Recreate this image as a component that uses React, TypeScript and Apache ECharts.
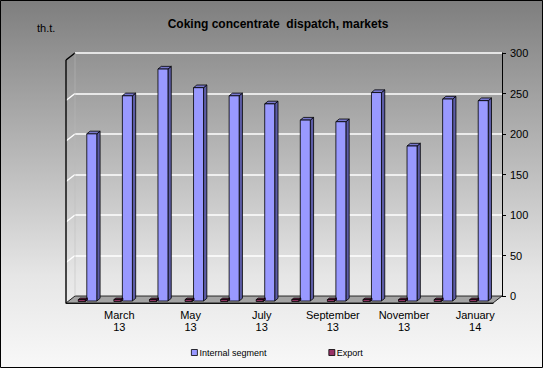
import React, { useEffect, useRef } from "react";
import * as echarts from "echarts";

const categories = [
  "February\n13", "March\n13", "April\n13", "May\n13", "June\n13", "July\n13",
  "August\n13", "September\n13", "October\n13", "November\n13", "December\n13", "January\n14",
];
const internalSegment = [203, 250, 283, 260, 250, 240, 220, 218, 254, 188, 246, 244];
const exportValues = [0.5, 0.5, 0.5, 0.5, 0.5, 0.5, 0.5, 0.5, 0.5, 0.5, 0.5, 0.5];
const yTicks = [0, 50, 100, 150, 200, 250, 300];

const FONT = "'Liberation Sans', Arial, sans-serif";
const DEPTH_X = 9;
const DEPTH_Y = 7;

export default function App() {
  const ref = useRef<HTMLDivElement>(null);

  useEffect(() => {
    document.body.style.margin = "0";
    if (!ref.current) return;
    const chart = echarts.init(ref.current, null, { renderer: "svg" });

    const bar3d = (
      color: string, side: string, topC: string,
      offX: number, wid: number, shiftY: number, dx: number, dy: number, minH: number
    ) =>
      (params: any, api: any) => {
        const i = api.value(0);
        const v = api.value(1);
        const top = api.coord([i, v]);
        const base = api.coord([i, 0]);
        const cx = top[0];
        const fl = cx + offX;
        const fr = fl + wid;
        const ft = Math.min(top[1] + shiftY + dy, base[1] + shiftY - minH);
        const fb = base[1] + shiftY;
        return {
          type: "group",
          children: [
            {
              type: "polygon",
              shape: { points: [[fr, ft], [fr + dx, ft + dy], [fr + dx, fb + dy], [fr, fb]] },
              style: { fill: side, stroke: "#000", lineWidth: 0.8 },
            },
            {
              type: "polygon",
              shape: { points: [[fl, ft], [fl + dx, ft + dy], [fr + dx, ft + dy], [fr, ft]] },
              style: { fill: topC, stroke: "#000", lineWidth: 0.8 },
            },
            {
              type: "rect",
              shape: { x: fl, y: ft, width: fr - fl, height: fb - ft },
              style: { fill: color, stroke: "#000", lineWidth: 0.8 },
            },
          ],
        };
      };

    const floorRender = (params: any, api: any) => {
      const cs = params.coordSys;
      const x = cs.x, y = cs.y, w = cs.width, h = cs.height;
      const children: any[] = [];
      children.push({
        type: "polygon",
        shape: {
          points: [[x, y + h], [x + w, y + h], [x + w - DEPTH_X, y + h + DEPTH_Y], [x - DEPTH_X, y + h + DEPTH_Y]],
        },
        style: { fill: "#a3a3a3", stroke: "#222", lineWidth: 1 },
      });
      yTicks.forEach((t) => {
        if (t === 0) return;
        const yy = api.coord([0, t])[1];
        children.push({
          type: "line",
          shape: { x1: x - DEPTH_X, y1: yy + DEPTH_Y, x2: x, y2: yy },
          style: { stroke: t === 300 ? "#000" : "#fff", lineWidth: 1.5 },
        });
      });
      children.push({
        type: "line",
        shape: { x1: x - DEPTH_X, y1: y + DEPTH_Y, x2: x - DEPTH_X, y2: y + h + DEPTH_Y },
        style: { stroke: "#111", lineWidth: 1.5 },
      });
      children.push({
        type: "line",
        shape: { x1: x, y1: y, x2: x, y2: y + h },
        style: { stroke: "#bbb", lineWidth: 0.5 },
      });
      return { type: "group", children };
    };

    chart.setOption({
      animation: false,
      textStyle: { fontFamily: FONT },
      title: {
        text: "Coking concentrate  dispatch, markets",
        left: 273,
        textAlign: "center",
        top: 13,
        textStyle: { fontSize: 12, fontWeight: "bold", color: "#000", fontFamily: FONT },
      },
      graphic: [
        {
          type: "text",
          left: 37,
          top: 22,
          style: { text: "th.t.", fontSize: 11, fill: "#000", fontFamily: FONT },
        },
        {
          type: "rect",
          shape: { x: 0.5, y: 0.5, width: 542, height: 367 },
          style: { fill: "none", stroke: "#000", lineWidth: 1 },
          z: 100,
        },
      ],
      legend: {
        top: 343,
        left: 186,
        itemWidth: 6,
        itemHeight: 6,
        itemGap: 62,
        icon: "rect",
        textStyle: { fontSize: 9, color: "#000", fontFamily: FONT, padding: [0, 0, 0, -3] },
        itemStyle: { borderColor: "#000", borderWidth: 0.8 },
        data: ["Internal segment", "Export"],
      },
      grid: [
        { left: 75, top: 53, width: 427, height: 243 },
        { left: 66, top: 60, width: 427, height: 243 },
      ],
      xAxis: [
        { type: "category", gridIndex: 0, data: categories, show: false },
        {
          type: "category",
          gridIndex: 1,
          data: categories,
          axisLine: { lineStyle: { color: "#000", width: 1 } },
          axisTick: { interval: 0, length: 5, lineStyle: { color: "#000" } },
          axisLabel: {
            interval: (index: number) => index % 2 === 1,
            color: "#000",
            fontSize: 11,
            lineHeight: 12,
            margin: 6,
            fontFamily: FONT,
          },
        },
      ],
      yAxis: [
        {
          type: "value",
          gridIndex: 0,
          position: "right",
          min: 0,
          max: 300,
          interval: 50,
          axisLine: { show: true, lineStyle: { color: "#000", width: 1 } },
          axisTick: { show: true, length: 4, lineStyle: { color: "#000" } },
          axisLabel: { color: "#000", fontSize: 11, margin: 8, fontFamily: FONT },
          splitLine: { show: true, lineStyle: { color: "#fff", width: 1.5 } },
        },
        { type: "value", gridIndex: 1, min: 0, max: 300, show: false },
      ],
      series: [
        {
          type: "custom",
          name: "floor",
          xAxisIndex: 0,
          yAxisIndex: 0,
          clip: false,
          z: 1,
          silent: true,
          renderItem: floorRender,
          data: [[0, 0]],
        },
        {
          type: "custom",
          name: "Internal segment",
          xAxisIndex: 0,
          yAxisIndex: 0,
          clip: false,
          z: 3,
          itemStyle: { color: "#9999FF" },
          renderItem: bar3d("#9999FF", "#5c5ca6", "#7777cc", -6, 10, 5, 3.3, -2.7, 1.5),
          encode: { x: 0, y: 1 },
          data: internalSegment.map((v, i) => [i, v]),
        },
        {
          type: "custom",
          name: "Export",
          xAxisIndex: 0,
          yAxisIndex: 0,
          clip: false,
          z: 4,
          itemStyle: { color: "#993366" },
          renderItem: bar3d("#993366", "#5e1f3f", "#7a2952", -14.5, 7, 5.5, 2, -1.5, 1.2),
          encode: { x: 0, y: 1 },
          data: exportValues.map((v, i) => [i, v]),
        },
      ],
    });

    return () => chart.dispose();
  }, []);

  return (
    <div
      style={{
        width: 543,
        height: 368,
        background: "linear-gradient(to bottom, #7e7e7e 0%, #b5b5b5 40%, #e6e6e6 75%, #f8f8f8 100%)",
      }}
    >
      <div ref={ref} style={{ width: 543, height: 368 }} />
    </div>
  );
}
